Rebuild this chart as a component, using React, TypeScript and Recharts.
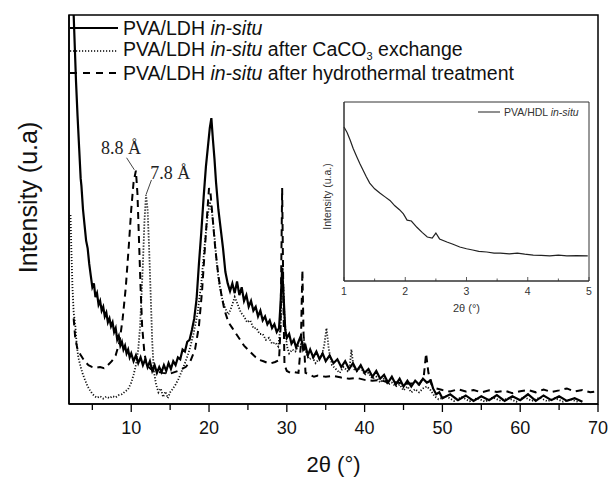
import { Legend, Line, LineChart, ReferenceArea, ReferenceDot, ReferenceLine, XAxis, YAxis } from 'recharts'

// 2θ (deg), intensity (a.u., 0-100 across plot height)
const asSynthesized: [number, number][] = [
  [2.3, 140], [2.6, 100], [2.9, 83], [3.1, 74], [3.3, 66], [3.5, 58], [3.6, 56], [3.8, 50], [4.0, 46],
  [4.2, 42], [4.4, 40], [4.6, 36], [4.8, 33], [5.0, 30], [5.2, 31], [5.4, 27.5], [5.6, 28.5], [5.8, 25.5],
  [6.0, 26.5], [6.2, 24], [6.4, 25], [6.6, 22.5], [6.8, 23.5], [7.0, 21], [7.2, 22], [7.4, 20], [7.6, 21],
  [7.8, 18.5], [8.0, 19.5], [8.2, 16.5], [8.4, 17.5], [8.6, 15], [8.8, 16], [9.0, 14], [9.2, 15], [9.4, 13],
  [9.6, 14], [9.8, 12], [10.0, 13], [10.3, 11], [10.6, 12.5], [10.9, 10.5], [11.2, 12], [11.5, 10],
  [11.8, 11.5], [12.1, 9.5], [12.4, 11], [12.7, 8.5], [13.0, 10], [13.3, 8], [13.6, 9.5], [13.9, 8.2],
  [14.2, 10], [14.5, 8.5], [14.8, 10.5], [15.1, 9], [15.4, 11], [15.7, 10], [16.0, 12], [16.3, 11.5],
  [16.6, 14], [16.9, 13.5], [17.2, 16], [17.5, 16.5], [17.8, 19], [18.1, 22], [18.4, 27], [18.7, 36],
  [19.0, 44], [19.3, 53], [19.6, 61], [19.9, 67], [20.1, 71], [20.3, 73.5], [20.5, 68], [20.7, 63],
  [20.9, 57], [21.2, 50], [21.5, 45], [21.8, 40], [22.1, 34], [22.4, 31], [22.7, 29], [23.0, 31],
  [23.3, 28.5], [23.6, 31.5], [23.9, 28], [24.2, 30], [24.5, 26.5], [24.8, 28], [25.1, 25], [25.4, 26.5],
  [25.7, 24], [26.0, 25], [26.3, 22.5], [26.6, 24], [26.9, 21.5], [27.2, 22.5], [27.5, 20.5], [27.8, 21.5],
  [28.1, 19.5], [28.4, 20.5], [28.7, 18.5], [29.0, 19.5], [29.2, 26], [29.4, 35], [29.6, 27], [29.8, 19],
  [30.0, 17], [30.3, 18], [30.6, 15.5], [30.9, 16.5], [31.2, 14.5], [31.5, 16], [31.8, 17.5], [32.1, 14],
  [32.4, 15], [32.7, 12.5], [33.0, 14], [33.4, 12], [33.8, 13.5], [34.2, 11.5], [34.6, 13], [35.0, 11],
  [35.5, 12.5], [36.0, 10.5], [36.5, 11.5], [37.0, 9.5], [37.5, 11], [38.0, 9], [38.5, 10.5], [39.0, 8.5],
  [39.5, 10], [40.0, 8], [40.5, 9], [41.0, 7], [41.5, 8.5], [42.0, 6.5], [42.5, 7.5], [43.0, 5.5],
  [43.5, 7], [44.0, 5], [44.5, 6.5], [45.0, 4.5], [45.5, 6], [46.0, 4.5], [46.5, 6], [47.0, 5], [47.5, 6.5],
  [48.0, 5.5], [48.5, 6], [48.8, 4], [49.2, 2.5], [49.6, 3], [50.0, 1.5], [51, 2.5], [52, 1], [53, 2.2],
  [54, 0.8], [55, 2], [56, 1], [57, 2.3], [58, 0.8], [59, 2], [60, 1], [61, 2.5], [62, 0.8], [63, 2.2],
  [64, 1], [65, 2], [66, 0.8], [67, 1.5], [68, 0.6],
]

const afterCarbonate: [number, number][] = [
  [2.2, 48.6], [2.3, 40], [2.45, 30], [2.6, 23.5], [2.8, 20.5], [3.0, 15], [3.2, 12], [3.5, 9.5], [3.8, 7.5],
  [4.1, 6], [4.4, 4.5], [4.7, 3.5], [5.0, 2.6], [5.3, 2], [5.6, 1.6], [6.0, 2], [6.4, 1.4], [6.8, 1.9],
  [7.2, 1.5], [7.6, 2], [8.0, 1.7], [8.4, 2.3], [8.8, 2.5], [9.2, 3.2], [9.6, 3.8], [10.0, 5.5], [10.3, 7.5],
  [10.6, 10], [10.9, 14], [11.1, 19], [11.3, 27], [11.5, 36], [11.7, 47], [11.9, 53.7], [12.1, 50],
  [12.3, 40], [12.5, 28], [12.7, 16], [12.9, 8.5], [13.2, 5], [13.5, 3], [13.8, 4], [14.1, 1.8], [14.4, 3.2],
  [14.7, 1.5], [15.0, 3], [15.3, 3.8], [15.7, 5], [16.1, 6.5], [16.5, 8.5], [17.0, 11], [17.5, 14],
  [18.0, 18], [18.5, 23], [19.0, 31], [19.4, 40], [19.8, 48], [20.1, 52], [20.4, 49], [20.7, 43],
  [21.0, 36], [21.3, 31], [21.7, 27], [22.1, 24.5], [22.5, 23], [22.9, 25], [23.3, 27.5], [23.7, 25.5],
  [24.1, 23.5], [24.5, 22.5], [24.9, 21], [25.3, 21.5], [25.7, 19.5], [26.1, 19.5], [26.5, 18], [26.9, 18],
  [27.3, 16.5], [27.7, 17], [28.1, 15.5], [28.5, 15.8], [28.9, 14.8], [29.2, 20], [29.45, 35], [29.7, 22],
  [30.0, 15], [30.3, 13], [30.7, 14], [31.1, 13.5], [31.5, 15], [31.9, 15.5], [32.2, 16.5], [32.5, 13],
  [32.9, 11.5], [33.3, 12], [33.7, 10.5], [34.1, 11.5], [34.5, 12.5], [34.8, 15], [35.1, 19.5], [35.4, 14],
  [35.8, 10], [36.3, 9], [36.8, 8], [37.3, 9.5], [37.8, 8.5], [38.1, 10], [38.3, 14], [38.6, 9], [39.0, 8.5],
  [39.5, 9.5], [40.0, 7.5], [40.5, 8], [41.0, 6.5], [41.5, 7], [42.0, 5.5], [42.5, 6.5], [43.0, 5],
  [43.5, 5.5], [44.0, 4.5], [44.5, 5], [45.0, 3.5], [45.5, 4.5], [46.0, 3], [46.5, 3.8], [47.0, 3],
  [47.5, 4], [48.0, 4.5], [48.5, 3.5], [49.0, 2], [49.5, 1.2], [50.5, 2], [51.5, 0.8], [52.5, 1.8],
  [53.5, 0.7], [54.5, 1.5], [55.5, 0.6], [56.5, 1.7], [57.5, 0.8], [58.5, 1.5], [59.5, 0.6], [60.5, 1.8],
  [61.5, 0.8], [62.5, 1.6], [63.5, 0.7], [64.5, 1.5], [65.5, 0.6], [66.5, 1.2], [67.5, 0.5],
]

const afterHydrothermal: [number, number][] = [
  [2.6, 22], [2.8, 17], [3.1, 14], [3.5, 12.6], [4.0, 11], [4.5, 10], [5.0, 9.5], [5.5, 9.3], [6.0, 9.5],
  [6.5, 9.2], [7.0, 10], [7.5, 11], [8.0, 12.5], [8.5, 16], [8.9, 22], [9.3, 30], [9.7, 41], [10.0, 50],
  [10.3, 57], [10.6, 60], [10.8, 54], [11.0, 42], [11.2, 30], [11.4, 20], [11.7, 13], [12.0, 10], [12.5, 9],
  [13.0, 8.5], [14.0, 8], [15.0, 7.8], [16.0, 8.5], [17.0, 9.5], [17.6, 11], [18.2, 14], [18.7, 20],
  [19.1, 29], [19.5, 41], [19.8, 50], [20.0, 55.5], [20.2, 54], [20.5, 47], [20.8, 40], [21.2, 33],
  [21.6, 28], [22.0, 24], [22.5, 21], [23.0, 19.5], [23.5, 18], [24.0, 16.5], [24.5, 15], [25.0, 14],
  [25.5, 13], [26.0, 12], [26.5, 11.3], [27.0, 11], [27.5, 10.6], [28.0, 10.5], [28.5, 10.8], [29.0, 11.3],
  [29.2, 20], [29.4, 55.5], [29.55, 28], [29.7, 10], [30.0, 8.5], [30.5, 8], [31.0, 8.2], [31.5, 8],
  [31.8, 15], [32.0, 34.4], [32.15, 18], [32.4, 8], [33.0, 7.5], [33.5, 7], [34.0, 7.3], [35.0, 7],
  [36.0, 7.2], [37.0, 6.8], [38.0, 6.5], [39.0, 6.7], [40.0, 6.2], [41.0, 6], [42.0, 6.2], [43.0, 5.5],
  [44.0, 5.6], [45.0, 5.2], [46.0, 5.3], [47.0, 5], [47.6, 7], [47.9, 13], [48.2, 8], [48.6, 5], [49.2, 4],
  [50.0, 3.6], [51, 3.2], [52, 3.8], [53, 3.2], [54, 3.6], [55, 3], [56, 3.5], [57, 3.1], [58, 3.4],
  [59, 2.8], [60, 3.3], [61, 3.6], [62, 3.0], [63, 3.7], [64, 3.1], [65, 3.5], [66, 4], [67, 3.2],
  [68, 3.6], [69, 3.0], [70, 3.3],
]

// low-angle inset scan
const lowAngle: [number, number][] = [
  [1.0, 86], [1.05, 83], [1.1, 78.8], [1.15, 74], [1.21, 69.3], [1.26, 65.5], [1.31, 62], [1.36, 58.5],
  [1.42, 54.7], [1.5, 51.5], [1.59, 49], [1.67, 47], [1.75, 45], [1.83, 42], [1.91, 39.7], [1.97, 37.5],
  [2.03, 34], [2.1, 33.5], [2.19, 30], [2.28, 27], [2.36, 24.6], [2.44, 24], [2.5, 26.8], [2.56, 23.5],
  [2.68, 21.8], [2.78, 20.5], [2.89, 19], [3.0, 18], [3.1, 17.3], [3.2, 16.6], [3.33, 16.2], [3.45, 15.6],
  [3.55, 15.6], [3.7, 15.2], [3.83, 15.6], [3.95, 15], [4.09, 14.5], [4.22, 14.3], [4.36, 14], [4.5, 14.4],
  [4.64, 14], [4.8, 14.2], [4.98, 14],
]

const mainTicks = [5, 10, 15, 20, 25, 30, 35, 40, 45, 50, 55, 60, 65, 70]
const insetTicks = [1, 1.5, 2, 2.5, 3, 3.5, 4, 4.5, 5]

const seriesNames = ['', ' after CaCO', ' after hydrothermal treatment']
const seriesDash = ['', '1.2 1.8', '7 6']

const basalSpacings = [
  { label: '8.8 Å', x: 8.7, y: 65.8, from: { x: 9.4, y: 63.3 }, to: { x: 10.4, y: 60.2 } },
  { label: '7.8 Å', x: 15.0, y: 59.6, from: { x: 12.6, y: 57.6 }, to: { x: 11.9, y: 53.8 } },
]

const toPoints = (rows: [number, number][]) => rows.map(([x, y]) => ({ x, y }))

const sans = '"Liberation Sans", Arial, sans-serif'
const serif = '"Liberation Serif", "Times New Roman", serif'

function MainTick({ x, y, payload }: any) {
  const major = payload.value % 10 === 0
  return (
    <g>
      <line x1={x} x2={x} y1={y} y2={y + (major ? 8 : 6)} stroke="#000" strokeWidth={1.3} />
      {major && (
        <text x={x} y={y + 30} textAnchor="middle" fontSize={18} fontFamily={sans} fill="#111">
          {payload.value}
        </text>
      )}
    </g>
  )
}

function InsetTick({ x, y, payload }: any) {
  const major = Number.isInteger(payload.value)
  return (
    <g>
      <line x1={x} x2={x} y1={y} y2={y - (major ? 4 : 2.5)} stroke="#333" strokeWidth={0.8} />
      {major && (
        <text x={x} y={y + 14} textAnchor="middle" fontSize={10.5} fontFamily={sans} fill="#333">
          {payload.value}
        </text>
      )}
    </g>
  )
}

function MainLegend() {
  return (
    <div style={{ fontFamily: sans, fontSize: 19.5, color: '#111' }}>
      {seriesNames.map((name, i) => (
        <div key={i} style={{ display: 'flex', alignItems: 'center', height: 22.5, whiteSpace: 'nowrap' }}>
          <svg width={48} height={10}>
            <line x1={0} x2={48} y1={5} y2={5} stroke="#000" strokeWidth={i === 1 ? 1.6 : 2} strokeDasharray={seriesDash[i]} />
          </svg>
          <span style={{ marginLeft: 5, lineHeight: '20px' }}>
            PVA/LDH <i>in-situ</i>
            {name}
            {i === 1 && (
              <>
                <span style={{ fontSize: 11, position: 'relative', top: 4 }}>3</span> exchange
              </>
            )}
          </span>
        </div>
      ))}
    </div>
  )
}

function InsetLegend() {
  return (
    <div style={{ display: 'flex', alignItems: 'center', fontFamily: sans, fontSize: 10.5, color: '#333', whiteSpace: 'nowrap' }}>
      <svg width={22} height={6}>
        <line x1={0} x2={22} y1={3} y2={3} stroke="#333" strokeWidth={1.1} />
      </svg>
      <span style={{ marginLeft: 4 }}>
        PVA/HDL <i>in-situ</i>
      </span>
    </div>
  )
}

function App() {
  return (
    <div style={{ position: 'absolute', left: 0, top: 0, width: 610, height: 477, background: '#fff' }}>
      <LineChart width={610} height={477} margin={{ top: 15, right: 12, bottom: 3, left: 68 }}>
        <XAxis
          type="number"
          dataKey="x"
          domain={[2, 70]}
          allowDataOverflow
          ticks={mainTicks}
          interval={0}
          tickSize={0}
          tickMargin={0}
          tickLine={false}
          tick={<MainTick />}
          height={70}
          axisLine={{ stroke: '#000', strokeWidth: 1.5 }}
          label={({ viewBox }: any) => (
            <text x={viewBox.x + viewBox.width / 2} y={viewBox.y + 68} textAnchor="middle" fontSize={22} fontFamily={sans} fill="#111">
              2θ (°)
            </text>
          )}
        />
        <YAxis
          type="number"
          domain={[0, 100]}
          allowDataOverflow
          width={1}
          tick={false}
          tickLine={false}
          axisLine={{ stroke: '#000', strokeWidth: 1.5 }}
          label={({ viewBox }: any) => {
            const cx = viewBox.x + viewBox.width - 41
            const cy = viewBox.y + viewBox.height / 2 - 12
            return (
              <text x={cx} y={cy} transform={`rotate(-90 ${cx} ${cy})`} textAnchor="middle" dominantBaseline="central" fontSize={25} fontFamily={sans} fill="#111">
                Intensity (u.a)
              </text>
            )
          }}
        />
        <ReferenceArea x1={2} x2={70} y1={0} y2={100} fill="none" stroke="#000" strokeWidth={1.5} />
        <Line data={toPoints(afterCarbonate)} dataKey="y" stroke="#111" strokeWidth={1.8} strokeDasharray="1.2 1.8" dot={false} isAnimationActive={false} />
        <Line data={toPoints(afterHydrothermal)} dataKey="y" stroke="#000" strokeWidth={2} strokeDasharray="7 5" dot={false} isAnimationActive={false} />
        <Line data={toPoints(asSynthesized)} dataKey="y" stroke="#000" strokeWidth={2.2} dot={false} isAnimationActive={false} />
        {basalSpacings.map((a) => (
          <ReferenceLine key={a.label + 'l'} segment={[a.from, a.to]} stroke="#444" strokeWidth={1} />
        ))}
        {basalSpacings.map((a) => (
          <ReferenceDot
            key={a.label}
            x={a.x}
            y={a.y}
            r={0}
            fill="none"
            stroke="none"
            label={{ value: a.label, position: 'center', fontSize: 18, fontFamily: serif, fill: '#222' }}
          />
        ))}
        <Legend
          layout="vertical"
          align="center"
          verticalAlign="middle"
          content={<MainLegend />}
          wrapperStyle={{ left: 70, top: 17, width: 'auto' }}
        />
      </LineChart>

      <div style={{ position: 'absolute', left: 310, top: 95 }}>
        <LineChart width={290} height={225} margin={{ top: 7, right: 11, bottom: 4, left: 33 }}>
          <XAxis
            type="number"
            dataKey="x"
            domain={[1, 5]}
            ticks={insetTicks}
            interval={0}
            tickSize={0}
            tickMargin={0}
            tickLine={false}
            tick={<InsetTick />}
            height={35}
            axisLine={{ stroke: '#333', strokeWidth: 1 }}
            label={({ viewBox }: any) => (
              <text x={viewBox.x + viewBox.width / 2} y={viewBox.y + 31} textAnchor="middle" fontSize={11} fontFamily={sans} fill="#333">
                2θ (°)
              </text>
            )}
          />
          <YAxis
            type="number"
            domain={[0, 100]}
            width={1}
            tick={false}
            tickLine={false}
            axisLine={{ stroke: '#333', strokeWidth: 1 }}
            label={({ viewBox }: any) => {
              const cx = viewBox.x + viewBox.width - 17
              const cy = viewBox.y + viewBox.height / 2 + 5
              return (
                <text x={cx} y={cy} transform={`rotate(-90 ${cx} ${cy})`} textAnchor="middle" dominantBaseline="central" fontSize={10.5} fontFamily={sans} fill="#333">
                  Intensity (u.a.)
                </text>
              )
            }}
          />
          <ReferenceArea x1={1} x2={5} y1={0} y2={100} fill="none" stroke="#333" strokeWidth={1} />
          <Line data={toPoints(lowAngle)} dataKey="y" stroke="#222" strokeWidth={1.2} dot={false} isAnimationActive={false} />
          <Legend
            layout="vertical"
            align="center"
            verticalAlign="middle"
            content={<InsetLegend />}
            wrapperStyle={{ left: 168, top: 11, width: 'auto' }}
          />
        </LineChart>
      </div>
    </div>
  )
}

export default App
